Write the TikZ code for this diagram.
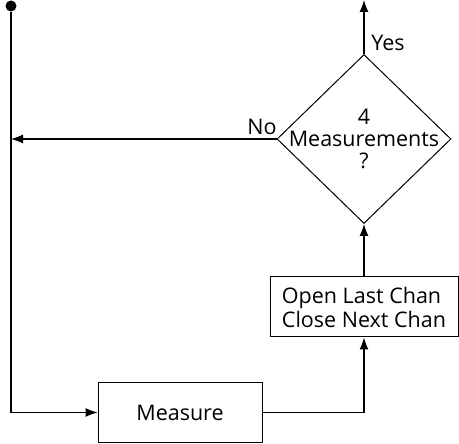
\documentclass[tikz,border=0pt]{standalone}
\usepackage{fontspec}
\setmainfont{Open Sans}
\usetikzlibrary{shapes.geometric}
\usetikzlibrary{arrows.meta}
\tikzstyle{block}=[rectangle, draw, line width=1pt, inner sep=0pt]
\tikzstyle{flow}=[line width=1.1pt, -{Latex[length=12pt,width=9pt]}]
\tikzstyle{txt}=[font=\fontsize{21.5}{24}\selectfont, inner sep=0pt]

\begin{document}
\begin{tikzpicture}[x=1pt, y=-1pt]
        \useasboundingbox (0,0) rectangle (459,444);
        % nodes
        \node[fill=black, circle, inner sep=0pt, minimum size=11pt] (start) at (11,6) {};
        \node[block, minimum width=164pt, minimum height=59pt] (meas) at (180,412.5) {};
        \node[txt] (meastext) at (meas) {Measure};
        \node[block, minimum width=188pt, minimum height=60pt] (chan) at (364,307) {};
        \node[txt, align=left] (chantext) at (chan) {Open Last Chan\\Close Next Chan};
        \node[diamond, draw, line width=1pt, minimum width=174pt, minimum height=169pt, inner sep=0pt] (test) at (364,139) {};
        \node[txt, align=center, font=\fontsize{21.5}{22}\selectfont] (testtext) at (test) {4\\Measurements\\?};
        \coordinate (done) at (364,0);
        \node[txt] (yes) at (388,43) {Yes};
        \node[txt] (no) at (262,127) {No};

        % edges
        \draw[flow] (start) |- (meas.west);
        \draw[flow] (meas.east) -| (chan.south);
        \draw[flow] (chan.north) -- (test.south);
        \draw[flow] (test.north) -- (done);
        \draw[flow] (test.west) -- (start |- test.west);
    \end{tikzpicture}
\end{document}
